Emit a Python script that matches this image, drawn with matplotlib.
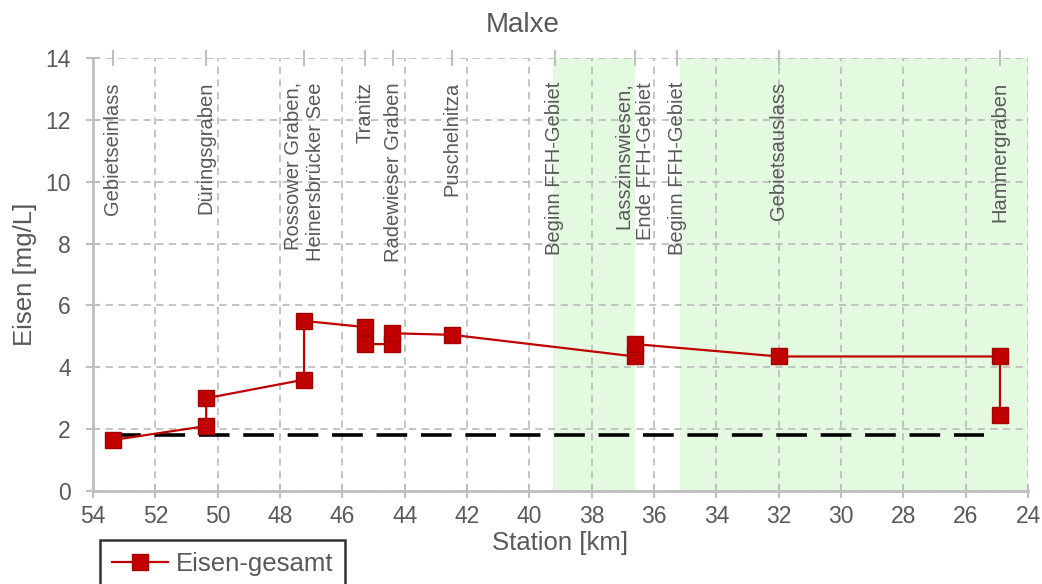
import matplotlib.pyplot as plt

plt.rcParams['font.family'] = ['Liberation Sans', 'DejaVu Sans']

# station [km] and iron concentration [mg/L], in drawing order
station = [53.36, 50.37, 50.37, 47.23, 47.23, 45.27, 45.27, 44.40, 44.40, 42.48,
           36.61, 36.61, 32.00, 24.90, 24.90]
eisen = [1.65, 2.10, 3.00, 3.60, 5.50, 5.30, 4.75, 4.75, 5.10, 5.05,
         4.35, 4.75, 4.35, 4.35, 2.45]

# reference value (dashed line)
ref_x = [53.45, 25.4]
ref_y = [1.8, 1.8]

# FFH areas (green bands)
ffh_from = [39.24, 35.17]
ffh_to = [36.60, 24.0]

# station labels
label_x = [53.36, 50.37, 47.23, 45.27, 44.37, 42.48, 39.18, 36.62, 35.26, 32.0, 24.9]
label_txt = ["Gebietseinlass", "Düringsgraben", "Rossower Graben,\nHeinersbrücker See",
             "Tranitz", "Radewieser Graben", "Puschelnitza", "Beginn FFH-Gebiet",
             "Lasszinswiesen,\nEnde FFH-Gebiet", "Beginn FFH-Gebiet", "Gebietsauslass",
             "Hammergraben"]

txt_col = "#595959"
grid_col = "#bfbfbf"
red = "#c00000"

fig = plt.figure(figsize=(10.42, 5.84), dpi=100)
ax = fig.add_axes([0.0893, 0.1592, 0.8973, 0.7415])

for a, b in zip(ffh_from, ffh_to):
    ax.axvspan(a, b, color="#e3fae1", zorder=0, lw=0)

ax.grid(True, color=grid_col, linestyle=(0, (4, 3)), linewidth=1.3, zorder=0.5)

ax.plot(ref_x, ref_y, color="black", lw=2.6, dashes=(8.5, 3.8), zorder=2)
ax.plot(station, eisen, color=red, lw=1.6, marker="s", markersize=11.5,
        markerfacecolor="#c00000", markeredgecolor="#a50000", zorder=3,
        label="Eisen-gesamt")

for x, t in zip(label_x, label_txt):
    ax.text(x, 13.22, t, rotation=90, ha="center", va="top", multialignment="right",
            fontsize=14.5, color=txt_col, zorder=4)

ax.set_xlim(54, 24)
ax.set_ylim(0, 14)
ax.set_xticks(range(54, 23, -2))
ax.set_yticks(range(0, 15, 2))

for s in ["top", "right"]:
    ax.spines[s].set_visible(False)
for s in ["left", "bottom"]:
    ax.spines[s].set_color(grid_col)
    ax.spines[s].set_linewidth(2)

ax.tick_params(direction="inout", length=10, width=1.5, color=grid_col,
               labelsize=16.5, labelcolor=txt_col, pad=5)
ax.tick_params(axis="y", pad=11)

# small tick marks at the station positions on top
top = ax.secondary_xaxis("top")
top.set_xticks(label_x)
top.tick_params(direction="inout", length=12, width=1.5, color=grid_col, labeltop=False)
top.spines["top"].set_visible(False)

ax.set_xlabel("Station [km]", fontsize=18.5, color=txt_col, labelpad=2)
ax.set_ylabel("Eisen [mg/L]", fontsize=18.5, color=txt_col, labelpad=6)
fig.text(0.502, 1 - 25 / 584, "Malxe", fontsize=20, color=txt_col, ha="center", va="center")

leg = fig.legend(loc="upper left", bbox_to_anchor=(100 / 1042, 1 - 540 / 584),
                 fontsize=18.5, frameon=True, fancybox=False, borderaxespad=0,
                 handlelength=2.2, handletextpad=0.3, borderpad=0.45, labelcolor=txt_col)
leg.get_frame().set_edgecolor("black")
leg.get_frame().set_linewidth(1.8)

fig.savefig("out.png", dpi=100)
